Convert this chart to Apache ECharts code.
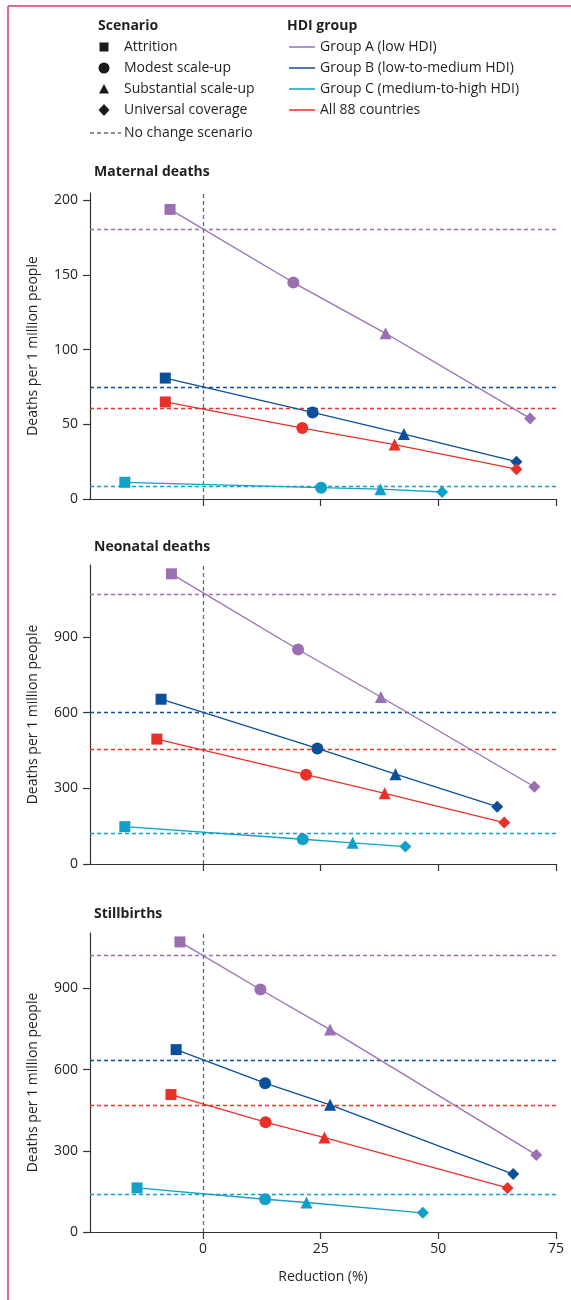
<!DOCTYPE html>
<html><head><meta charset="utf-8">
<script src="https://cdn.jsdelivr.net/npm/echarts@6/dist/echarts.min.js"></script>
<style>html,body{margin:0;padding:0;background:#fff}#c{width:571px;height:1300px}</style>
</head><body><div id="c"></div>
<script>
// ---- data ----
const scenarios = ['Attrition', 'Modest scale-up', 'Substantial scale-up', 'Universal coverage'];
const groups = ['Group A (low HDI)', 'Group B (low-to-medium HDI)', 'Group C (medium-to-high HDI)', 'All 88 countries'];
const panelTitles = ['Maternal deaths', 'Neonatal deaths', 'Stillbirths'];
const xTicks = [0, 25, 50, 75];
const maternalYTicks = [0, 50, 100, 150, 200];
const neonatalYTicks = [0, 300, 600, 900];
const stillYTicks = [0, 300, 600, 900];

// Maternal deaths: reduction (%) and deaths per 1 million, per scenario
const maternalRedA = [-7.0, 19.2, 38.8, 69.5];
const maternalDeathsA = [194, 145, 111, 54];
const maternalRedB = [-8.0, 23.3, 42.7, 66.6];
const maternalDeathsB = [81, 58, 43.5, 25];
const maternalRedC = [-16.6, 25.1, 37.7, 50.8];
const maternalDeathsC = [11.2, 7.6, 6.6, 4.7];
const maternalRedAll = [-8.0, 21.1, 40.7, 66.6];
const maternalDeathsAll = [65, 47.5, 36.5, 20];
const maternalNoChange = [181, 75, 8.7, 60.8];

// Neonatal deaths
const neonatalRedA = [-6.7, 20.2, 37.8, 70.4];
const neonatalDeathsA = [1150, 850, 662, 306];
const neonatalRedB = [-8.9, 24.3, 40.9, 62.5];
const neonatalDeathsB = [653, 458, 356, 227];
const neonatalRedC = [-16.6, 21.2, 31.8, 43.0];
const neonatalDeathsC = [148, 98, 84, 69];
const neonatalRedAll = [-9.8, 21.9, 38.6, 64.0];
const neonatalDeathsAll = [495, 354, 280, 164];
const neonatalNoChange = [1071, 600, 123, 455];

// Stillbirths
const stillRedA = [-4.9, 12.2, 27.0, 70.8];
const stillDeathsA = [1072, 896, 748, 285];
const stillRedB = [-5.7, 13.2, 27.0, 65.9];
const stillDeathsB = [674, 550, 470, 214];
const stillRedC = [-14.0, 13.2, 22.0, 46.7];
const stillDeathsC = [163, 121, 109, 71];
const stillRedAll = [-6.8, 13.3, 25.8, 64.7];
const stillDeathsAll = [508, 406, 349, 163];
const stillNoChange = [1022, 634, 140, 470];

// ---- styling ----
const FONT = 'Open Sans';
const TXT = '#231f20';
const groupColors = ['#9a70b3', '#0b4f9b', '#129fc8', '#e9312a'];
const scenarioSymbols = ['rect', 'circle', 'triangle', 'diamond'];
const scenarioSizes = [11, 12, 12, 12];

const panels = [
  { title: panelTitles[0], yTicks: maternalYTicks, yMax: 205,
    red: [maternalRedA, maternalRedB, maternalRedC, maternalRedAll],
    deaths: [maternalDeathsA, maternalDeathsB, maternalDeathsC, maternalDeathsAll],
    base: maternalNoChange },
  { title: panelTitles[1], yTicks: neonatalYTicks, yMax: 1185,
    red: [neonatalRedA, neonatalRedB, neonatalRedC, neonatalRedAll],
    deaths: [neonatalDeathsA, neonatalDeathsB, neonatalDeathsC, neonatalDeathsAll],
    base: neonatalNoChange },
  { title: panelTitles[2], yTicks: stillYTicks, yMax: 1105,
    red: [stillRedA, stillRedB, stillRedC, stillRedAll],
    deaths: [stillDeathsA, stillDeathsB, stillDeathsC, stillDeathsAll],
    base: stillNoChange }
];
const gridBoxes = [
  { left: 90, top: 193, width: 466, height: 306 },
  { left: 90, top: 565, width: 466, height: 299 },
  { left: 90, top: 933, width: 466, height: 299 }
];
const titleTops = [160, 535, 902];

const grid = [], xAxis = [], yAxis = [], series = [], title = [];
panels.forEach((p, i) => {
  grid.push(Object.assign({ containLabel: false }, gridBoxes[i]));
  title.push({ text: p.title, left: 89, top: titleTops[i],
    textStyle: { fontFamily: FONT, fontSize: 14, fontWeight: 'bold', color: TXT } });
  xAxis.push({
    type: 'value', gridIndex: i, min: -24, max: 75,
    name: i === 2 ? 'Reduction (%)' : '', nameLocation: 'middle', nameGap: 38,
    nameTextStyle: { fontFamily: FONT, fontSize: 14, color: TXT },
    axisLine: { show: true, onZero: false, lineStyle: { color: '#333', width: 1.2 } },
    axisTick: { show: true, length: 7, customValues: xTicks, lineStyle: { color: '#333', width: 1.2 } },
    axisLabel: { show: i === 2, customValues: xTicks, fontFamily: FONT, fontSize: 14, color: TXT, margin: 10 },
    splitLine: { show: false }
  });
  yAxis.push({
    type: 'value', gridIndex: i, min: 0, max: p.yMax,
    name: 'Deaths per 1 million people', nameLocation: 'middle', nameGap: 50,
    nameTextStyle: { fontFamily: FONT, fontSize: 14, color: TXT },
    axisLine: { show: true, onZero: false, lineStyle: { color: '#333', width: 1.2 } },
    axisTick: { show: true, length: 7, customValues: p.yTicks, lineStyle: { color: '#333', width: 1.2 } },
    axisLabel: { customValues: p.yTicks, fontFamily: FONT, fontSize: 14, color: TXT, margin: 12 },
    splitLine: { show: false }
  });
  p.red.forEach((xs, g) => {
    const mlData = [{ yAxis: p.base[g] }];
    if (g === 0) mlData.push({ xAxis: 0, lineStyle: { color: '#4f7580', type: [4, 3], width: 1.3 } });
    series.push({
      type: 'line', name: groups[g], xAxisIndex: i, yAxisIndex: i,
      data: xs.map((v, k) => ({ value: [v, p.deaths[g][k]], symbol: scenarioSymbols[k], symbolSize: scenarioSizes[k] })),
      lineStyle: { color: groupColors[g], width: 1.3 },
      itemStyle: { color: groupColors[g], opacity: 1 },
      showAllSymbol: true, z: 3,
      markLine: {
        silent: true, symbol: ['none', 'none'], label: { show: false }, animation: false,
        lineStyle: { color: groupColors[g], type: [4, 3], width: 1.3, opacity: 1 },
        data: mlData, z: 2
      }
    });
  });
});

// ---- legend (graphic) ----
const graphic = [];
const LG = '#1a1a1a';
graphic.push({ type: 'line', shape: { x1: 8, y1: 6, x2: 571, y2: 6 }, style: { stroke: '#d2416b', lineWidth: 1.5 } });
graphic.push({ type: 'line', shape: { x1: 8, y1: 6, x2: 8, y2: 1300 }, style: { stroke: '#d2416b', lineWidth: 1.5 } });
graphic.push({ type: 'text', left: 98, top: 19, style: { text: 'Scenario', font: 'bold 14px ' + FONT, fill: TXT } });
graphic.push({ type: 'text', left: 287, top: 19, style: { text: 'HDI group', font: 'bold 14px ' + FONT, fill: TXT } });
const rowY = [47, 68, 89, 110];
scenarios.forEach((s, k) => {
  graphic.push({ type: 'text', x: 124, y: rowY[k], style: { text: s, font: '14px ' + FONT, fill: TXT, verticalAlign: 'middle' } });
});
graphic.push({ type: 'rect', shape: { x: 99.5, y: rowY[0] - 4.5, width: 9, height: 9 }, style: { fill: LG } });
graphic.push({ type: 'circle', shape: { cx: 104, cy: rowY[1], r: 5.5 }, style: { fill: LG } });
graphic.push({ type: 'polygon', shape: { points: [[104, rowY[2] - 5], [109, rowY[2] + 4.5], [99, rowY[2] + 4.5]] }, style: { fill: LG } });
graphic.push({ type: 'polygon', shape: { points: [[104, rowY[3] - 6], [109.5, rowY[3]], [104, rowY[3] + 6], [98.5, rowY[3]]] }, style: { fill: LG } });
graphic.push({ type: 'line', shape: { x1: 90, y1: 133, x2: 121, y2: 133 }, style: { stroke: LG, lineWidth: 1.2, lineDash: [4, 3] } });
graphic.push({ type: 'text', x: 124, y: 133, style: { text: 'No change scenario', font: '14px ' + FONT, fill: TXT, verticalAlign: 'middle' } });
groups.forEach((g, k) => {
  graphic.push({ type: 'line', shape: { x1: 289, y1: rowY[k], x2: 315, y2: rowY[k] }, style: { stroke: groupColors[k], lineWidth: 1.5 } });
  graphic.push({ type: 'text', x: 320, y: rowY[k], style: { text: g, font: '14px ' + FONT, fill: TXT, verticalAlign: 'middle' } });
});

const chart = echarts.init(document.getElementById('c'), null, { renderer: 'canvas' });
chart.setOption({
  animation: false,
  backgroundColor: '#ffffff',
  textStyle: { fontFamily: FONT },
  title, grid, xAxis, yAxis, series, graphic
});
</script></body></html>
